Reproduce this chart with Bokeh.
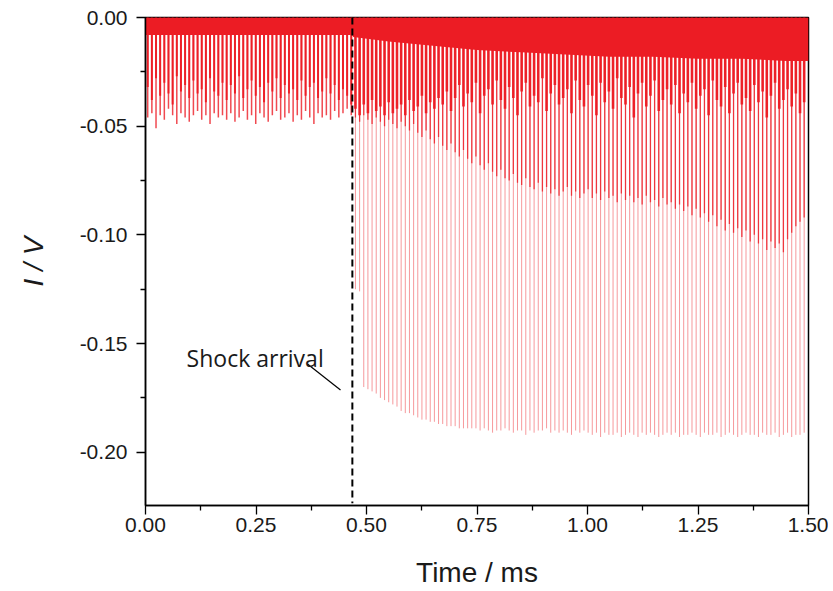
from bokeh.plotting import figure
from bokeh.models import Range1d, FixedTicker, ColumnDataSource, Label
from bokeh.embed import file_html
from bokeh.resources import INLINE

# ---------------- data ----------------
shock_time = 0.468  # ms

pre_t = [0.0050, 0.0144, 0.0238, 0.0332, 0.0426, 0.0520, 0.0614, 0.0708, 0.0802, 0.0896,
         0.0990, 0.1084, 0.1178, 0.1272, 0.1366, 0.1460, 0.1554, 0.1648, 0.1742, 0.1836,
         0.1930, 0.2024, 0.2118, 0.2212, 0.2306, 0.2400, 0.2494, 0.2588, 0.2682, 0.2776,
         0.2870, 0.2964, 0.3058, 0.3152, 0.3246, 0.3340, 0.3434, 0.3528, 0.3622, 0.3716,
         0.3810, 0.3904, 0.3998, 0.4092, 0.4186, 0.4280, 0.4374, 0.4468, 0.4562, 0.4656]

pre_deep = [-0.046, -0.044, -0.051, -0.045, -0.047, -0.042, -0.045, -0.049, -0.044, -0.046,
            -0.048, -0.045, -0.043, -0.047, -0.045, -0.049, -0.044, -0.046, -0.045, -0.047,
            -0.044, -0.048, -0.046, -0.043, -0.047, -0.045, -0.049, -0.044, -0.046, -0.048,
            -0.045, -0.043, -0.047, -0.046, -0.044, -0.048, -0.045, -0.047, -0.043, -0.046,
            -0.049, -0.044, -0.046, -0.045, -0.047, -0.043, -0.046, -0.044, -0.042, -0.045]

pre_shoulder = [-0.032, -0.038, -0.028, -0.036, -0.030, -0.035, -0.040, -0.027, -0.034, -0.031,
                -0.037, -0.029, -0.035, -0.033, -0.039, -0.028, -0.034, -0.036, -0.030, -0.038,
                -0.031, -0.035, -0.027, -0.037, -0.033, -0.029, -0.036, -0.032, -0.039, -0.030,
                -0.034, -0.028, -0.037, -0.031, -0.035, -0.033, -0.038, -0.029, -0.036, -0.032,
                -0.030, -0.037, -0.034, -0.028, -0.035, -0.031, -0.038, -0.033, -0.036, -0.040]

post_t = [0.4750, 0.4844, 0.4938, 0.5032, 0.5126, 0.5220, 0.5314, 0.5408, 0.5502, 0.5596,
          0.5690, 0.5784, 0.5878, 0.5972, 0.6066, 0.6160, 0.6254, 0.6348, 0.6442, 0.6536,
          0.6630, 0.6724, 0.6818, 0.6912, 0.7006, 0.7100, 0.7194, 0.7288, 0.7382, 0.7476,
          0.7570, 0.7664, 0.7758, 0.7852, 0.7946, 0.8040, 0.8134, 0.8228, 0.8322, 0.8416,
          0.8510, 0.8604, 0.8698, 0.8792, 0.8886, 0.8980, 0.9074, 0.9168, 0.9262, 0.9356,
          0.9450, 0.9544, 0.9638, 0.9732, 0.9826, 0.9920, 1.0014, 1.0108, 1.0202, 1.0296,
          1.0390, 1.0484, 1.0578, 1.0672, 1.0766, 1.0860, 1.0954, 1.1048, 1.1142, 1.1236,
          1.1330, 1.1424, 1.1518, 1.1612, 1.1706, 1.1800, 1.1894, 1.1988, 1.2082, 1.2176,
          1.2270, 1.2364, 1.2458, 1.2552, 1.2646, 1.2740, 1.2834, 1.2928, 1.3022, 1.3116,
          1.3210, 1.3304, 1.3398, 1.3492, 1.3586, 1.3680, 1.3774, 1.3868, 1.3962, 1.4056,
          1.4150, 1.4244, 1.4338, 1.4432, 1.4526, 1.4620, 1.4714, 1.4808, 1.4902]

post_deep = [-0.125, -0.126, -0.170, -0.171, -0.172, -0.173, -0.175, -0.176, -0.177, -0.178,
             -0.179, -0.181, -0.182, -0.182, -0.183, -0.184, -0.185, -0.185, -0.186, -0.186,
             -0.187, -0.187, -0.188, -0.188, -0.188, -0.189, -0.189, -0.189, -0.189, -0.189,
             -0.190, -0.189, -0.190, -0.191, -0.190, -0.190, -0.189, -0.190, -0.191, -0.190,
             -0.190, -0.192, -0.190, -0.191, -0.190, -0.190, -0.189, -0.191, -0.190, -0.191,
             -0.190, -0.191, -0.192, -0.190, -0.191, -0.190,
             -0.191, -0.192, -0.191, -0.193, -0.191, -0.192, -0.192, -0.191, -0.193, -0.192,
             -0.191, -0.192, -0.193, -0.191, -0.192, -0.191, -0.192, -0.193, -0.192, -0.191,
             -0.192, -0.191, -0.193, -0.192, -0.192, -0.191, -0.192, -0.193, -0.191, -0.192,
             -0.192, -0.191, -0.193, -0.192, -0.191, -0.192, -0.193, -0.192, -0.191, -0.192,
             -0.192, -0.193, -0.191, -0.192, -0.192, -0.191, -0.193, -0.192, -0.191, -0.193,
             -0.192, -0.192, -0.191]

post_mid = [-0.046, -0.048, -0.045, -0.047, -0.049, -0.046, -0.048, -0.050, -0.047, -0.049,
            -0.051, -0.048, -0.050,
            -0.052, -0.049, -0.053, -0.055, -0.052, -0.056, -0.058, -0.055, -0.059, -0.061,
            -0.058, -0.062, -0.064,
            -0.061, -0.065, -0.067, -0.064, -0.068, -0.070, -0.067, -0.071, -0.073, -0.070,
            -0.074, -0.075, -0.072, -0.076, -0.077,
            -0.074, -0.078, -0.079, -0.076, -0.080, -0.078, -0.081, -0.079, -0.082, -0.080,
            -0.078, -0.082, -0.080, -0.083, -0.081,
            -0.079, -0.083, -0.081, -0.084, -0.080, -0.083, -0.082, -0.085, -0.081, -0.084,
            -0.082, -0.085, -0.083, -0.086, -0.082, -0.085, -0.084, -0.087, -0.083, -0.086,
            -0.085, -0.088, -0.086, -0.089, -0.087, -0.091, -0.088, -0.092, -0.090, -0.094,
            -0.091, -0.096, -0.093, -0.098, -0.095, -0.099, -0.097, -0.101, -0.098, -0.103,
            -0.100, -0.104, -0.102, -0.107, -0.103, -0.106, -0.104, -0.108, -0.102, -0.099,
            -0.096, -0.094, -0.092]

post_shoulder = [-0.042, -0.045, -0.040, -0.044, -0.038, -0.043, -0.041, -0.045, -0.039, -0.044,
                 -0.042, -0.040, -0.045, -0.038, -0.043, -0.041, -0.036, -0.044, -0.039, -0.042,
                 -0.037,
                 -0.040, -0.034, -0.043, -0.037, -0.031, -0.041, -0.035, -0.039, -0.030, -0.044,
                 -0.036, -0.033, -0.040, -0.029, -0.038, -0.042, -0.032, -0.037, -0.045, -0.034,
                 -0.030, -0.041, -0.036, -0.039, -0.028, -0.043, -0.035, -0.031, -0.040, -0.037,
                 -0.033, -0.044, -0.029, -0.038, -0.041, -0.031, -0.036, -0.045, -0.030, -0.039,
                 -0.034, -0.042, -0.028, -0.037, -0.040, -0.032, -0.046, -0.035, -0.030, -0.041,
                 -0.036, -0.029, -0.043, -0.038, -0.033, -0.040, -0.031, -0.044, -0.035, -0.039,
                 -0.030, -0.042, -0.036, -0.033, -0.045, -0.029, -0.038, -0.041, -0.032, -0.044,
                 -0.035, -0.030, -0.040, -0.037, -0.043, -0.031, -0.039, -0.034, -0.046, -0.036,
                 -0.030, -0.042, -0.038, -0.033, -0.041, -0.035, -0.044, -0.039]

band_t = [0.0, 0.468, 0.47, 0.55, 0.65, 0.75, 0.85, 0.95, 1.05, 1.15, 1.25, 1.35, 1.45, 1.5]
band_y = [-0.008, -0.008, -0.009, -0.011, -0.013, -0.015, -0.016, -0.017, -0.018, -0.018,
          -0.019, -0.019, -0.020, -0.020]

x_ticks = [0.0, 0.25, 0.5, 0.75, 1.0, 1.25, 1.5]
x_minor = [0.125, 0.375, 0.625, 0.875, 1.125, 1.375]
y_ticks = [0.0, -0.05, -0.10, -0.15, -0.20]
y_minor = [-0.025, -0.075, -0.125, -0.175]

# ---------------- figure ----------------
RED = "#ec1c24"
FONT = "Liberation Sans"

p = figure(width=828, height=591, output_backend="svg", toolbar_location=None,
           x_range=Range1d(0.0, 1.5), y_range=Range1d(-0.2245, 0.0),
           min_border_left=145, min_border_right=20, min_border_top=17, min_border_bottom=86)
p.grid.visible = False
p.background_fill_color = "white"
p.border_fill_color = "white"
p.outline_line_color = "black"
p.outline_line_width = 1.5

pre = ColumnDataSource(dict(t=pre_t, deep=pre_deep, sh=pre_shoulder, zero=[0.0] * len(pre_t)))
post = ColumnDataSource(dict(t=post_t, deep=post_deep, mid=post_mid, sh=post_shoulder,
                             zero=[0.0] * len(post_t)))

# pale deep spikes
p.segment(x0="t", y0="zero", x1="t", y1="deep", source=post, line_color=RED,
          line_alpha=0.45, line_width=1.0)
p.segment(x0="t", y0="zero", x1="t", y1="deep", source=pre, line_color=RED,
          line_alpha=0.8, line_width=1.5)
# medium tier
p.segment(x0="t", y0="zero", x1="t", y1="mid", source=post, line_color=RED,
          line_alpha=0.8, line_width=1.3)
# dark shoulder
p.segment(x0="t", y0="zero", x1="t", y1="sh", source=post, line_color=RED,
          line_alpha=0.95, line_width=2.6)
p.segment(x0="t", y0="zero", x1="t", y1="sh", source=pre, line_color=RED,
          line_alpha=0.95, line_width=2.0)
# solid band near zero
p.varea(x=band_t, y1=[0.0] * len(band_t), y2=band_y, fill_color=RED, fill_alpha=1.0)

# shock arrival marker
p.segment(x0=[shock_time], y0=[0.0], x1=[shock_time], y1=[-0.2235], line_color="black",
          line_width=2.0, line_dash="7 4")

label_x, label_y = 0.093, -0.1567
leader_x = [0.3665, 0.4412]
leader_y = [-0.1594, -0.1714]
p.line(x=leader_x, y=leader_y, line_color="black", line_width=1.2)
p.add_layout(Label(x=label_x, y=label_y, text="Shock arrival", text_font="Open Sans",
                   text_font_size="23px", text_color="#1a1a1a", text_baseline="alphabetic"))

# axes
for ax in (p.xaxis[0], p.yaxis[0]):
    ax.axis_line_color = "black"
    ax.axis_line_width = 1.5
    ax.major_tick_line_color = "black"
    ax.minor_tick_line_color = "black"
    ax.major_tick_line_width = 1.3
    ax.minor_tick_line_width = 1.3
    ax.major_tick_in = 0
    ax.major_tick_out = 9
    ax.minor_tick_in = 0
    ax.minor_tick_out = 5
    ax.major_label_text_font = FONT
    ax.major_label_text_font_size = "21px"
    ax.major_label_text_color = "#1a1a1a"
    ax.axis_label_text_font = FONT
    ax.axis_label_text_font_size = "28px"
    ax.axis_label_text_color = "#1a1a1a"

p.xaxis[0].ticker = FixedTicker(ticks=x_ticks, minor_ticks=x_minor)
p.yaxis[0].ticker = FixedTicker(ticks=y_ticks, minor_ticks=y_minor)
p.xaxis[0].major_label_overrides = {v: f"{v:.2f}" for v in x_ticks}
p.yaxis[0].major_label_overrides = {v: f"{v:.2f}" for v in y_ticks}
p.xaxis[0].major_label_standoff = 3
p.yaxis[0].major_label_standoff = 9
p.xaxis[0].axis_label = "Time / ms"
p.xaxis[0].axis_label_standoff = 22
p.yaxis[0].axis_label = "I / V"
p.yaxis[0].axis_label_text_font_style = "italic"
p.yaxis[0].axis_label_standoff = 28
p.xaxis[0].axis_label_text_font_style = "normal"

open("out.html", "w").write(file_html(p, INLINE))
